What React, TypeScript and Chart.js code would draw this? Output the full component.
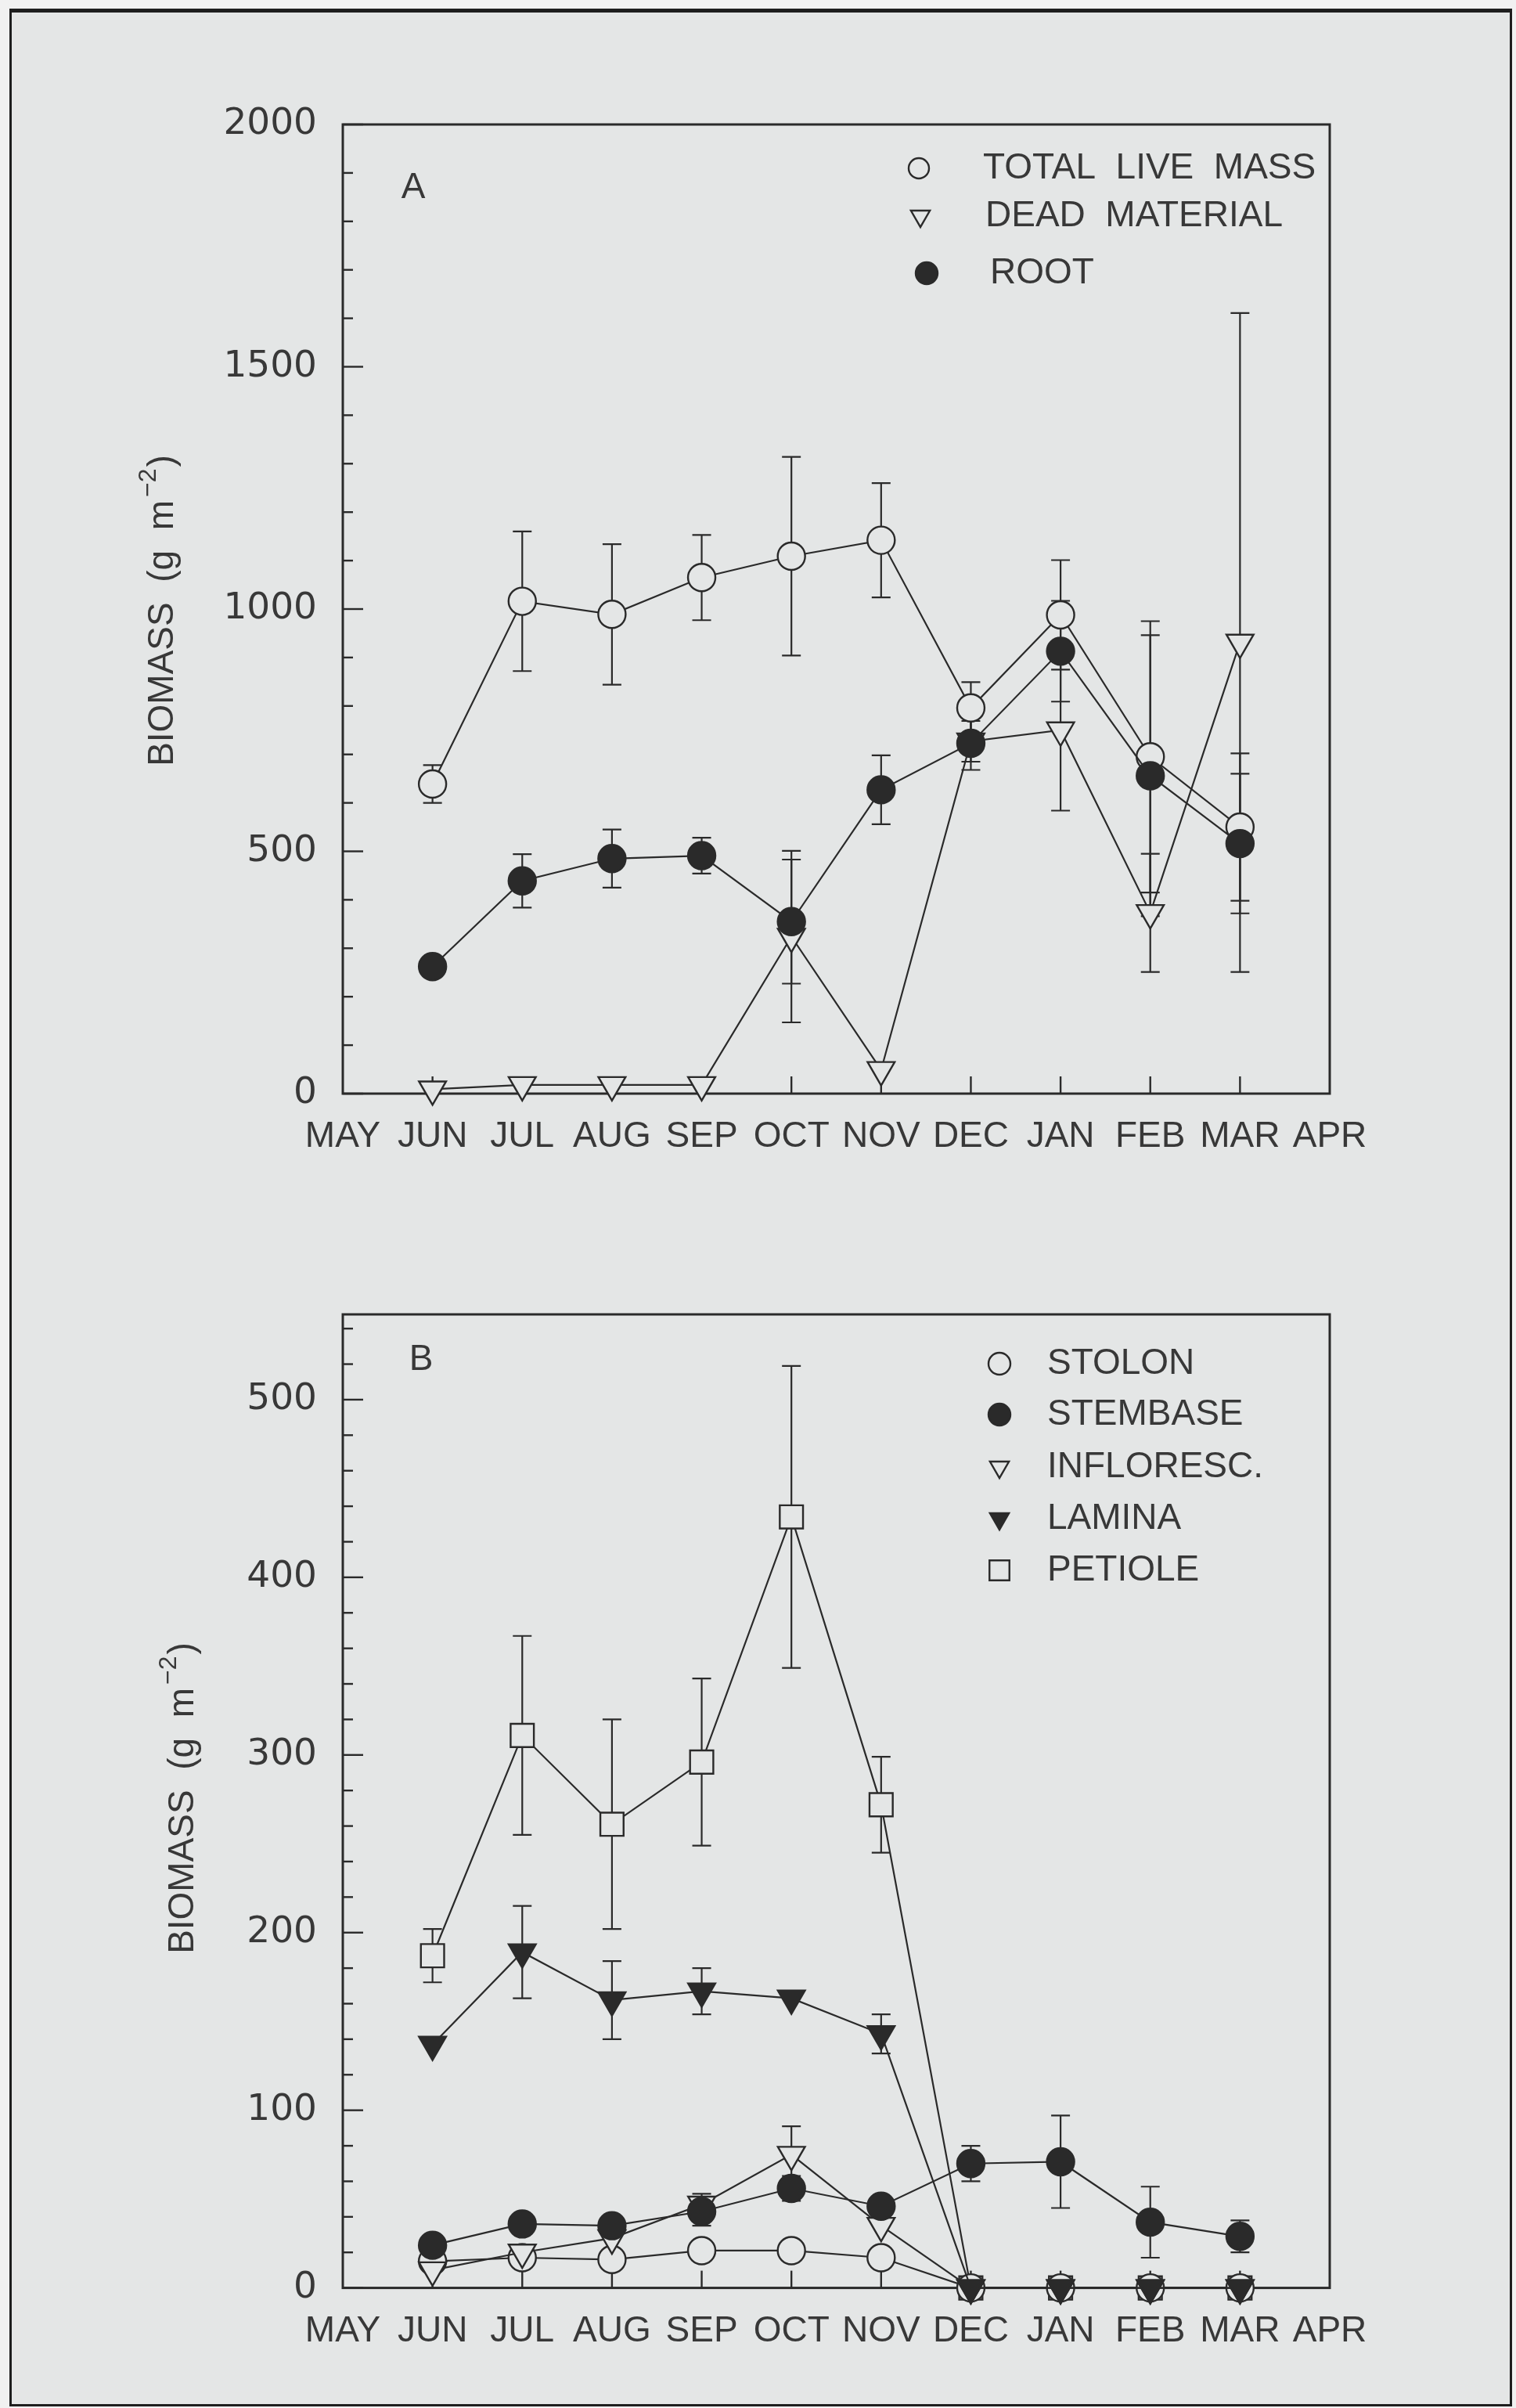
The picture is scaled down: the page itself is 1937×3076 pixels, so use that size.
import React, { useEffect, useRef } from 'react';
import { Chart, registerables } from 'chart.js';

Chart.register(...registerables);

// ---------- data ----------
const MONTHS = ['MAY', 'JUN', 'JUL', 'AUG', 'SEP', 'OCT', 'NOV', 'DEC', 'JAN', 'FEB', 'MAR', 'APR'];
const SAMPLED = ['JUN', 'JUL', 'AUG', 'SEP', 'OCT', 'NOV', 'DEC', 'JAN', 'FEB', 'MAR'];

// Panel A (g m-2)
const A_TOTAL = [639, 1016, 989, 1065, 1109, 1142, 796, 988, 695, 550];
const A_TOTAL_ERR = [39, 144, 145, 88, 205, 118, 53, 113, 280, 152];
const A_DEAD = [9, 18, 18, 18, 324, 49, 727, 750, 373, 931];
const A_DEAD_ERR = [0, 0, 0, 0, 177, 0, 42, 166, 122, 680];
const A_ROOT = [262, 439, 485, 491, 355, 627, 723, 913, 656, 516];
const A_ROOT_ERR = [0, 55, 60, 37, 128, 71, 55, 104, 290, 144];

// Panel B (g m-2)
const B_STOLON = [15, 17, 16, 21, 21, 17, 0, 0, 0, 0];
const B_STEMBASE = [24, 36, 35, 43, 56, 46, 70, 71, 37, 29];
const B_STEMBASE_ERR = [0, 0, 0, 8, 7, 0, 10, 26, 20, 9];
const B_INFLORESC = [10, 20, 28, 47, 75, 35, 0, 0, 0, 0];
const B_INFLORESC_ERR = [0, 0, 0, 6, 16, 0, 0, 0, 0, 0];
const B_LAMINA = [137, 189, 162, 167, 163, 143, 0, 0, 0, 0];
const B_LAMINA_ERR = [0, 26, 22, 13, 0, 11, 0, 0, 0, 0];
const B_PETIOLE = [187, 311, 261, 296, 434, 272, 0, 0, 0, 0];
const B_PETIOLE_ERR = [15, 56, 59, 47, 85, 27, 0, 0, 0, 0];

const A_Y_TICKS = [0, 500, 1000, 1500, 2000];
const A_Y_MINOR_STEP = 100;
const A_Y_MAX = 2000;
const B_Y_TICKS = [0, 100, 200, 300, 400, 500];
const B_Y_MINOR_STEP = 20;
const B_Y_MAX = 548;

const A_LEGEND = ['TOTAL LIVE MASS', 'DEAD MATERIAL', 'ROOT'];
const B_LEGEND = ['STOLON', 'STEMBASE', 'INFLORESC.', 'LAMINA', 'PETIOLE'];

// ---------- style ----------
const BG = '#e4e6e6';
const INK = '#2a2a2a';
const TEXT = '#383838';
const FONT = "'Liberation Sans', Arial, sans-serif";
const NUM_FONT = "'DejaVu Sans', 'Liberation Sans', sans-serif";
const PAGE_W = 1937;
const PAGE_H = 3076;

const toPoints = (values: number[]) =>
  values.map((v, i) => ({ x: MONTHS.indexOf(SAMPLED[i]), y: v }));

function drawMarker(ctx: CanvasRenderingContext2D, style: string, x: number, y: number, r: number, filled: boolean) {
  ctx.save();
  ctx.beginPath();
  if (style === 'circle') {
    ctx.arc(x, y, r, 0, Math.PI * 2);
  } else if (style === 'tri') {
    ctx.moveTo(x - r * 0.866, y - r * 0.5);
    ctx.lineTo(x + r * 0.866, y - r * 0.5);
    ctx.lineTo(x, y + r);
    ctx.closePath();
  } else {
    const s = r * 0.75;
    ctx.rect(x - s, y - s, 2 * s, 2 * s);
  }
  ctx.fillStyle = filled ? INK : BG;
  ctx.fill();
  ctx.lineWidth = 2.4;
  ctx.strokeStyle = INK;
  ctx.stroke();
  ctx.restore();
}

function drawYTitle(ctx: CanvasRenderingContext2D, cx: number, cy: number) {
  ctx.save();
  ctx.translate(cx, cy);
  ctx.rotate(-Math.PI / 2);
  const main = 'BIOMASS  (g  m';
  const sup = '\u22122';
  const close = ')';
  ctx.font = `46px ${FONT}`;
  const w1 = ctx.measureText(main).width;
  const w3 = ctx.measureText(close).width;
  ctx.font = `32px ${FONT}`;
  const w2 = ctx.measureText(sup).width;
  const total = w1 + 4 + w2 + 2 + w3;
  let x0 = -total / 2;
  ctx.fillStyle = TEXT;
  ctx.textBaseline = 'middle';
  ctx.textAlign = 'left';
  ctx.font = `46px ${FONT}`;
  ctx.fillText(main, x0, 0);
  x0 += w1 + 4;
  ctx.font = `32px ${FONT}`;
  ctx.fillText(sup, x0, -18);
  x0 += w2 + 2;
  ctx.font = `46px ${FONT}`;
  ctx.fillText(close, x0, 0);
  ctx.restore();
}

const decorPlugin = {
  id: 'decor',
  beforeDatasetsDraw(chart: any, _args: any, opts: any) {
    const { ctx, chartArea: ca, scales } = chart;
    const xs = scales.x;
    const ys = scales.y;
    ctx.save();
    // frame
    ctx.strokeStyle = INK;
    ctx.lineWidth = 3;
    ctx.strokeRect(ca.left, ca.top, ca.right - ca.left, ca.bottom - ca.top);
    // y ticks (inward)
    ctx.lineWidth = 2.4;
    for (let v = 0; v <= opts.yMax; v += opts.minorStep) {
      const py = ys.getPixelForValue(v);
      const major = opts.yTicks.includes(v);
      ctx.beginPath();
      ctx.moveTo(ca.left, py);
      ctx.lineTo(ca.left + (major ? 26 : 13), py);
      ctx.stroke();
    }
    // x ticks (inward) at interior months
    for (let i = 1; i < MONTHS.length - 1; i++) {
      const px = xs.getPixelForValue(i);
      ctx.beginPath();
      ctx.moveTo(px, ca.bottom);
      ctx.lineTo(px, ca.bottom - 22);
      ctx.stroke();
    }
    // error bars
    ctx.lineWidth = 2.2;
    const cap = 12;
    chart.data.datasets.forEach((ds: any) => {
      if (!ds.errors) return;
      ds.data.forEach((p: any, i: number) => {
        const e = ds.errors[i];
        if (!e) return;
        const px = xs.getPixelForValue(p.x);
        const yt = ys.getPixelForValue(p.y + e);
        const yb = ys.getPixelForValue(Math.max(0, p.y - e));
        ctx.beginPath();
        ctx.moveTo(px, yt);
        ctx.lineTo(px, yb);
        ctx.moveTo(px - cap, yt);
        ctx.lineTo(px + cap, yt);
        ctx.moveTo(px - cap, yb);
        ctx.lineTo(px + cap, yb);
        ctx.stroke();
      });
    });
    ctx.restore();
  },
  afterDraw(chart: any, _args: any, opts: any) {
    const { ctx } = chart;
    ctx.save();
    ctx.fillStyle = TEXT;
    ctx.textBaseline = 'middle';
    ctx.textAlign = 'center';
    ctx.font = `46px ${FONT}`;
    ctx.fillText(opts.letter, opts.letterX, opts.letterY);
    ctx.textAlign = 'left';
    opts.legend.forEach((item: any) => {
      drawMarker(ctx, item.style, item.mx, item.y, item.r, item.filled);
      ctx.fillStyle = TEXT;
      ctx.font = `46px ${FONT}`;
      // wider word spacing as in the original plotter lettering
      ctx.fillText(item.label.split(' ').join('  '), item.tx, item.y);
    });
    drawYTitle(ctx, opts.titleX, opts.titleY);
    ctx.restore();
  },
};

function lineDs(label: string, values: number[], errors: number[] | null, style: string, filled: boolean) {
  const pointStyle = style === 'tri' ? 'triangle' : style === 'rect' ? 'rect' : 'circle';
  const radius = style === 'tri' ? 20 : style === 'rect' ? 21 : 17.5;
  return {
    label,
    data: toPoints(values),
    errors,
    borderColor: INK,
    borderWidth: 2.2,
    pointStyle,
    pointRotation: style === 'tri' ? 180 : 0,
    pointRadius: radius,
    pointBackgroundColor: filled ? INK : BG,
    pointBorderColor: INK,
    pointBorderWidth: 2.4,
    fill: false,
    tension: 0,
    clip: false,
  };
}

function makeConfig(p: any) {
  return {
    type: 'line',
    data: { datasets: p.datasets },
    options: {
      responsive: false,
      animation: false,
      events: [],
      layout: { padding: { left: 0, right: PAGE_W - p.right, top: p.top, bottom: 0 } },
      plugins: {
        legend: { display: false },
        tooltip: { enabled: false },
        decor: p.decor,
      },
      scales: {
        x: {
          type: 'linear',
          min: 0,
          max: MONTHS.length - 1,
          grid: { display: false, drawTicks: false },
          border: { display: false },
          afterBuildTicks: (s: any) => {
            s.ticks = MONTHS.map((_, i) => ({ value: i }));
          },
          afterFit: (s: any) => {
            s.height = p.height - p.bottom;
          },
          ticks: {
            autoSkip: false,
            maxRotation: 0,
            minRotation: 0,
            padding: 28,
            color: TEXT,
            font: { family: FONT, size: 46 },
            callback: (v: any) => MONTHS[v],
          },
        },
        y: {
          type: 'linear',
          min: 0,
          max: p.yMax,
          grid: { display: false, drawTicks: false },
          border: { display: false },
          afterBuildTicks: (s: any) => {
            s.ticks = p.yTicks.map((v: number) => ({ value: v }));
          },
          afterFit: (s: any) => {
            s.width = p.left;
          },
          ticks: {
            padding: 33,
            color: TEXT,
            font: { family: NUM_FONT, size: 47 },
            callback: (v: any) => String(v),
          },
        },
      },
    },
    plugins: [decorPlugin],
  };
}

function Panel({ cfg }: { cfg: any }) {
  const ref = useRef<HTMLCanvasElement | null>(null);
  useEffect(() => {
    if (!ref.current) return;
    const chart = new Chart(ref.current, makeConfig(cfg) as any);
    return () => chart.destroy();
  }, [cfg]);
  return (
    <canvas
      ref={ref}
      width={PAGE_W}
      height={cfg.height}
      style={{ position: 'absolute', left: 0, top: cfg.offsetY, width: PAGE_W, height: cfg.height }}
    />
  );
}

const PANEL_A = {
  offsetY: 0,
  height: 1560,
  left: 438,
  right: 1699,
  top: 159,
  bottom: 1397,
  yMax: A_Y_MAX,
  yTicks: A_Y_TICKS,
  datasets: [
    lineDs('ROOT', A_ROOT, A_ROOT_ERR, 'circle', true),
    lineDs('TOTAL LIVE MASS', A_TOTAL, A_TOTAL_ERR, 'circle', false),
    lineDs('DEAD MATERIAL', A_DEAD, A_DEAD_ERR, 'tri', false),
  ],
  decor: {
    yMax: A_Y_MAX,
    yTicks: A_Y_TICKS,
    minorStep: A_Y_MINOR_STEP,
    letter: 'A',
    letterX: 528,
    letterY: 240,
    titleX: 208,
    titleY: 780,
    legend: [
      { label: A_LEGEND[0], style: 'circle', filled: false, mx: 1174, y: 215, r: 13, tx: 1256 },
      { label: A_LEGEND[1], style: 'tri', filled: false, mx: 1176, y: 276, r: 14, tx: 1259 },
      { label: A_LEGEND[2], style: 'circle', filled: true, mx: 1184, y: 349, r: 14, tx: 1265 },
    ],
  },
};

const B_OFF = 1560;
const PANEL_B = {
  offsetY: B_OFF,
  height: PAGE_H - B_OFF,
  left: 438,
  right: 1699,
  top: 1679 - B_OFF,
  bottom: 2922.6 - B_OFF,
  yMax: B_Y_MAX,
  yTicks: B_Y_TICKS,
  datasets: [
    lineDs('STEMBASE', B_STEMBASE, B_STEMBASE_ERR, 'circle', true),
    lineDs('LAMINA', B_LAMINA, B_LAMINA_ERR, 'tri', true),
    lineDs('INFLORESC.', B_INFLORESC, B_INFLORESC_ERR, 'tri', false),
    lineDs('STOLON', B_STOLON, null, 'circle', false),
    lineDs('PETIOLE', B_PETIOLE, B_PETIOLE_ERR, 'rect', false),
  ],
  decor: {
    yMax: B_Y_MAX,
    yTicks: B_Y_TICKS,
    minorStep: B_Y_MINOR_STEP,
    letter: 'B',
    letterX: 538,
    letterY: 1737 - B_OFF,
    titleX: 234,
    titleY: 2297 - B_OFF,
    legend: [
      { label: B_LEGEND[0], style: 'circle', filled: false, mx: 1277, y: 1742 - B_OFF, r: 14, tx: 1338 },
      { label: B_LEGEND[1], style: 'circle', filled: true, mx: 1277, y: 1807 - B_OFF, r: 14, tx: 1338 },
      { label: B_LEGEND[2], style: 'tri', filled: false, mx: 1277, y: 1874 - B_OFF, r: 14, tx: 1338 },
      { label: B_LEGEND[3], style: 'tri', filled: true, mx: 1277, y: 1940 - B_OFF, r: 14, tx: 1338 },
      { label: B_LEGEND[4], style: 'rect', filled: false, mx: 1277, y: 2006 - B_OFF, r: 17, tx: 1338 },
    ],
  },
};

export default function App() {
  return (
    <div
      style={{
        position: 'absolute',
        left: 0,
        top: 0,
        width: PAGE_W,
        height: PAGE_H,
        background: '#f1f1f1',
        overflow: 'hidden',
      }}
    >
      <div
        style={{
          position: 'absolute',
          left: 12,
          top: 11,
          width: PAGE_W - 12 - 5,
          height: PAGE_H - 11 - 2,
          boxSizing: 'border-box',
          borderTop: '5px solid #1e1e1e',
          borderLeft: '3px solid #1e1e1e',
          borderRight: '3px solid #1e1e1e',
          borderBottom: '3px solid #1e1e1e',
          background: BG,
        }}
      />
      <Panel cfg={PANEL_A} />
      <Panel cfg={PANEL_B} />
    </div>
  );
}
